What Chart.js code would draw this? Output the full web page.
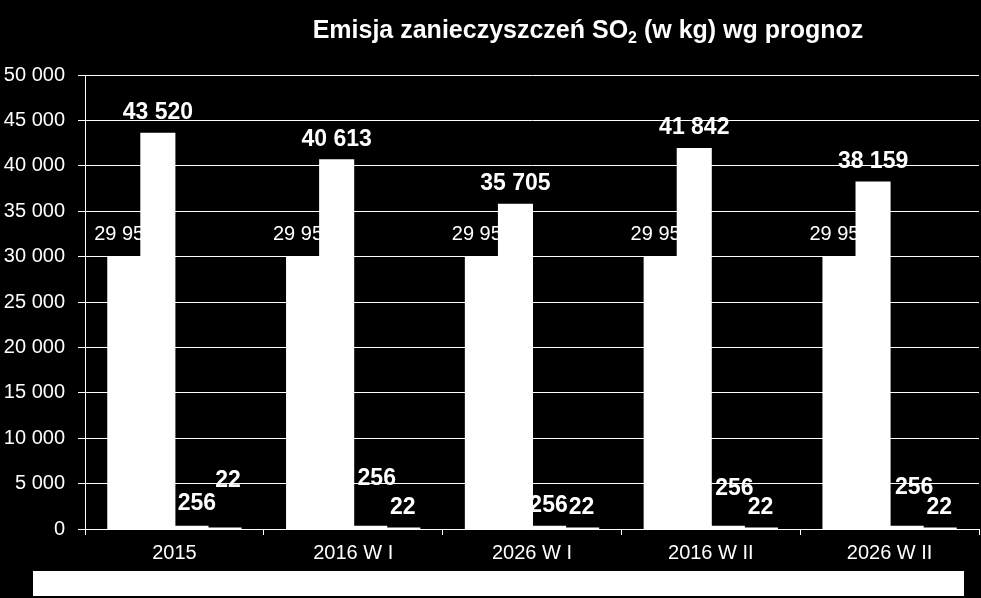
<!DOCTYPE html>
<html>
<head>
<meta charset="utf-8">
<script src="https://cdn.jsdelivr.net/npm/chart.js@4.4.0/dist/chart.umd.min.js"></script>
<style>
  html, body { margin: 0; padding: 0; background: #000; }
  #wrap { width: 981px; height: 598px; }
</style>
</head>
<body>
<div id="wrap"><canvas id="so2Chart" width="981" height="598"></canvas></div>
<script>
var categories = ['2015', '2016 W I', '2026 W I', '2016 W II', '2026 W II'];
var seriesNames = ['Seria 1', 'Seria 2', 'Seria 3', 'Seria 4'];
var series1 = [29950, 29950, 29950, 29950, 29950];
var series2 = [43520, 40613, 35705, 41842, 38159];
var series3 = [256, 256, 256, 256, 256];
var series4 = [22, 22, 22, 22, 22];
var yTicks = { min: 0, max: 50000, step: 5000 };

var FONT = 'Arial, "Liberation Sans", sans-serif';

function fmt(v) {
  return String(v).replace(/\B(?=(\d{3})+(?!\d))/g, ' ');
}

// labels moved by hand in the original, relative to the default spot
var labelNudge = {
  2: [[6, -2], [7, -27], [0, 0], [7, -17], [8, -18]],
  3: [[4, -27], [0, 0], [0, 0], [0, 0], [0, 0]]
};

function drawLabels(chart, which) {
  var ctx = chart.ctx;
  ctx.save();
  ctx.fillStyle = '#fff';
  ctx.textAlign = 'center';
  ctx.textBaseline = 'middle';
  chart.data.datasets.forEach(function(ds, i) {
    if ((which === 'first') !== (i === 0)) return;
    var meta = chart.getDatasetMeta(i);
    ctx.font = (i === 0 ? '20px ' : 'bold 23px ') + FONT;
    meta.data.forEach(function(bar, j) {
      var n = (labelNudge[i] && labelNudge[i][j]) || [0, 0];
      var off = i === 0 ? 23 : 21;
      ctx.fillText(fmt(ds.data[j]), bar.x + n[0], bar.y - off + n[1]);
    });
  });
  ctx.restore();
}

var valueLabels = {
  id: 'valueLabels',
  beforeDatasetsDraw: function(chart) { drawLabels(chart, 'first'); },
  afterDatasetsDraw: function(chart) { drawLabels(chart, 'rest'); }
};

var titleAndLegend = {
  id: 'titleAndLegend',
  afterDraw: function(chart) {
    var ctx = chart.ctx;
    ctx.save();
    ctx.fillStyle = '#fff';
    ctx.textBaseline = 'alphabetic';
    var big = 'bold 25px ' + FONT, small = 'bold 16px ' + FONT;
    var a = 'Emisja zanieczyszczeń SO', b = '2', c = ' (w kg) wg prognoz';
    ctx.font = big;
    var wa = ctx.measureText(a).width, wc = ctx.measureText(c).width;
    ctx.font = small;
    var wb = ctx.measureText(b).width;
    var x = 588 - (wa + wb + wc) / 2, y = 38;
    ctx.font = big; ctx.fillText(a, x, y);
    ctx.font = small; ctx.fillText(b, x + wa, y + 5);
    ctx.font = big; ctx.fillText(c, x + wa + wb, y);
    // white legend box at the bottom
    ctx.fillRect(33, 571, 931, 25);
    ctx.restore();
  }
};

var ctx = document.getElementById('so2Chart').getContext('2d');
var data = [series1, series2, series3, series4];

new Chart(ctx, {
  type: 'bar',
  data: {
    labels: categories,
    datasets: data.map(function(d, i) {
      return {
        label: seriesNames[i],
        data: d,
        backgroundColor: '#fff',
        borderWidth: 0,
        inflateAmount: 1,
        categoryPercentage: 0.74,
        barPercentage: 1.0
      };
    })
  },
  options: {
    responsive: false,
    animation: false,
    layout: { padding: { top: 75, left: 3, right: 2, bottom: 27 } },
    plugins: {
      legend: { display: false },
      title: { display: false },
      tooltip: { enabled: false }
    },
    scales: {
      x: {
        offset: true,
        grid: { drawOnChartArea: false, color: '#fff', tickLength: 6 },
        border: { color: '#fff', width: 1 },
        ticks: { color: '#fff', font: { family: FONT, size: 20 }, padding: 6 }
      },
      y: {
        min: yTicks.min,
        max: yTicks.max,
        afterFit: function(scale) { scale.width = 82; },
        grid: { color: '#fff', lineWidth: 1, tickLength: 7 },
        border: { color: '#fff', width: 1 },
        ticks: {
          stepSize: yTicks.step,
          color: '#fff',
          font: { family: FONT, size: 20 },
          padding: 13,
          callback: function(v) { return fmt(v); }
        }
      }
    }
  },
  plugins: [valueLabels, titleAndLegend]
});
</script>
</body>
</html>
